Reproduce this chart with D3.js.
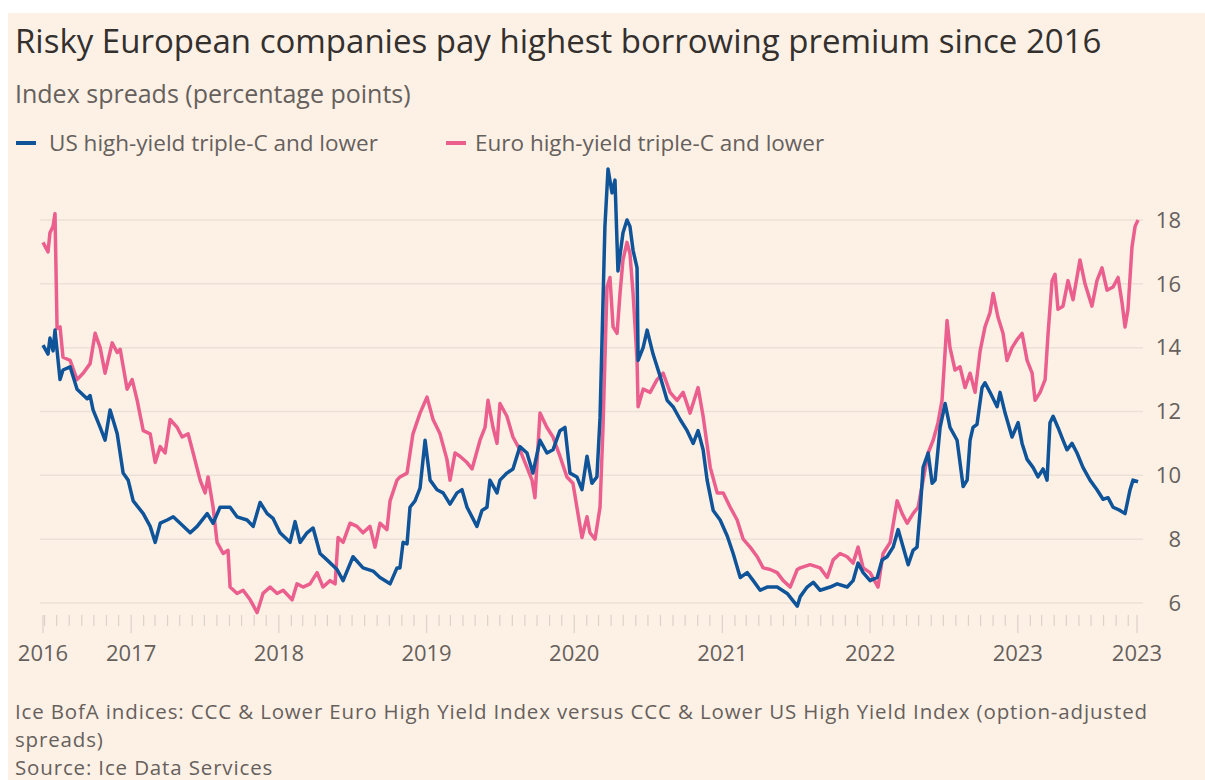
<!DOCTYPE html>
<html>
<head>
<meta charset="utf-8">
<script src="https://cdn.jsdelivr.net/npm/d3@7"></script>
<style>
  html, body { margin: 0; padding: 0; background: #ffffff; }
  svg { display: block; font-family: "Open Sans", sans-serif; }
</style>
</head>
<body>
<div id="chart"></div>
<script>
// dates are decimal years, spreads in percentage points
const usYears = [2016.405, 2016.439, 2016.452, 2016.473, 2016.486, 2016.520, 2016.540, 2016.588, 2016.635, 2016.703, 2016.723, 2016.743, 2016.791, 2016.824, 2016.858, 2016.906, 2016.946, 2016.980, 2017.014, 2017.082, 2017.129, 2017.163, 2017.197, 2017.244, 2017.285, 2017.332, 2017.400, 2017.447, 2017.515, 2017.555, 2017.602, 2017.670, 2017.717, 2017.785, 2017.826, 2017.873, 2017.921, 2017.961, 2018.008, 2018.076, 2018.110, 2018.144, 2018.191, 2018.232, 2018.279, 2018.326, 2018.394, 2018.435, 2018.502, 2018.570, 2018.638, 2018.685, 2018.753, 2018.800, 2018.820, 2018.841, 2018.868, 2018.888, 2018.922, 2018.956, 2018.990, 2019.024, 2019.071, 2019.112, 2019.159, 2019.206, 2019.240, 2019.274, 2019.341, 2019.375, 2019.409, 2019.429, 2019.477, 2019.497, 2019.544, 2019.585, 2019.632, 2019.680, 2019.720, 2019.768, 2019.815, 2019.856, 2019.903, 2019.937, 2019.971, 2020.018, 2020.052, 2020.086, 2020.119, 2020.153, 2020.174, 2020.187, 2020.207, 2020.228, 2020.255, 2020.275, 2020.295, 2020.329, 2020.356, 2020.376, 2020.397, 2020.424, 2020.431, 2020.465, 2020.492, 2020.532, 2020.580, 2020.627, 2020.667, 2020.715, 2020.762, 2020.803, 2020.836, 2020.870, 2020.897, 2020.938, 2020.985, 2021.033, 2021.073, 2021.121, 2021.168, 2021.209, 2021.256, 2021.303, 2021.371, 2021.439, 2021.507, 2021.527, 2021.574, 2021.615, 2021.662, 2021.730, 2021.777, 2021.845, 2021.885, 2021.919, 2021.953, 2022.000, 2022.048, 2022.081, 2022.115, 2022.156, 2022.190, 2022.224, 2022.258, 2022.291, 2022.318, 2022.339, 2022.359, 2022.393, 2022.420, 2022.440, 2022.474, 2022.508, 2022.541, 2022.589, 2022.630, 2022.657, 2022.677, 2022.697, 2022.724, 2022.758, 2022.778, 2022.812, 2022.860, 2022.880, 2022.914, 2022.961, 2023.002, 2023.029, 2023.063, 2023.103, 2023.137, 2023.171, 2023.198, 2023.218, 2023.239, 2023.272, 2023.306, 2023.333, 2023.367, 2023.401, 2023.441, 2023.489, 2023.536, 2023.577, 2023.611, 2023.645, 2023.692, 2023.726, 2023.760, 2023.780, 2023.814];
const usSpread = [14.08, 13.8, 14.3, 13.9, 14.55, 13.0, 13.3, 13.4, 12.7, 12.4, 12.5, 12.05, 11.5, 11.1, 12.05, 11.3, 10.07, 9.85, 9.2, 8.8, 8.4, 7.9, 8.5, 8.6, 8.7, 8.5, 8.2, 8.4, 8.8, 8.5, 9.0, 9.0, 8.7, 8.6, 8.4, 9.15, 8.8, 8.65, 8.2, 7.9, 8.55, 7.9, 8.2, 8.35, 7.55, 7.35, 7.05, 6.7, 7.45, 7.1, 7.0, 6.8, 6.6, 7.1, 7.1, 7.9, 7.85, 9.0, 9.2, 9.6, 11.1, 9.85, 9.55, 9.45, 9.1, 9.45, 9.55, 9.0, 8.4, 8.9, 9.0, 9.85, 9.45, 9.85, 10.07, 10.2, 10.9, 10.7, 10.07, 11.1, 10.7, 10.8, 11.4, 11.5, 10.07, 9.95, 9.55, 10.6, 9.75, 9.95, 11.8, 14.15, 17.8, 19.6, 18.85, 19.25, 16.4, 17.6, 18.0, 17.8, 17.05, 16.5, 13.6, 14.0, 14.55, 13.8, 13.1, 12.35, 12.15, 11.75, 11.4, 11.0, 11.4, 10.8, 9.85, 8.9, 8.6, 8.1, 7.55, 6.8, 6.95, 6.7, 6.4, 6.5, 6.5, 6.3, 5.9, 6.2, 6.5, 6.65, 6.4, 6.5, 6.6, 6.5, 6.7, 7.25, 6.95, 6.7, 6.8, 7.35, 7.45, 7.75, 8.3, 7.75, 7.2, 7.65, 7.75, 8.9, 10.25, 10.7, 9.75, 9.85, 11.5, 12.25, 11.5, 11.1, 9.65, 9.85, 11.1, 11.5, 11.6, 12.75, 12.9, 12.6, 12.15, 12.6, 11.95, 11.2, 11.65, 11.0, 10.5, 10.25, 9.95, 10.2, 9.85, 11.65, 11.85, 11.5, 11.1, 10.8, 11.0, 10.7, 10.25, 9.85, 9.55, 9.25, 9.3, 9.0, 8.9, 8.8, 9.55, 9.85, 9.8];

const euroYears = [2016.405, 2016.439, 2016.452, 2016.473, 2016.486, 2016.500, 2016.520, 2016.540, 2016.588, 2016.635, 2016.676, 2016.723, 2016.757, 2016.791, 2016.824, 2016.872, 2016.906, 2016.926, 2016.973, 2017.007, 2017.041, 2017.082, 2017.129, 2017.163, 2017.197, 2017.230, 2017.264, 2017.312, 2017.345, 2017.386, 2017.420, 2017.467, 2017.501, 2017.521, 2017.555, 2017.582, 2017.623, 2017.656, 2017.670, 2017.717, 2017.758, 2017.806, 2017.853, 2017.893, 2017.941, 2017.988, 2018.029, 2018.090, 2018.123, 2018.164, 2018.211, 2018.259, 2018.299, 2018.347, 2018.381, 2018.401, 2018.435, 2018.482, 2018.529, 2018.570, 2018.617, 2018.651, 2018.685, 2018.732, 2018.753, 2018.800, 2018.820, 2018.868, 2018.908, 2018.956, 2019.003, 2019.044, 2019.091, 2019.138, 2019.159, 2019.193, 2019.226, 2019.274, 2019.308, 2019.362, 2019.396, 2019.416, 2019.450, 2019.477, 2019.497, 2019.544, 2019.585, 2019.632, 2019.680, 2019.714, 2019.734, 2019.768, 2019.815, 2019.856, 2019.903, 2019.950, 2019.991, 2020.025, 2020.052, 2020.086, 2020.106, 2020.140, 2020.174, 2020.194, 2020.221, 2020.241, 2020.262, 2020.289, 2020.309, 2020.329, 2020.356, 2020.376, 2020.397, 2020.424, 2020.431, 2020.465, 2020.512, 2020.559, 2020.600, 2020.647, 2020.694, 2020.735, 2020.782, 2020.836, 2020.870, 2020.918, 2020.965, 2021.006, 2021.053, 2021.100, 2021.141, 2021.188, 2021.236, 2021.276, 2021.324, 2021.371, 2021.412, 2021.459, 2021.507, 2021.527, 2021.594, 2021.662, 2021.710, 2021.750, 2021.797, 2021.845, 2021.885, 2021.919, 2021.953, 2022.000, 2022.054, 2022.088, 2022.136, 2022.183, 2022.217, 2022.251, 2022.291, 2022.325, 2022.359, 2022.393, 2022.427, 2022.460, 2022.487, 2022.521, 2022.541, 2022.575, 2022.609, 2022.643, 2022.677, 2022.711, 2022.745, 2022.778, 2022.812, 2022.833, 2022.866, 2022.900, 2022.927, 2022.961, 2022.995, 2023.029, 2023.063, 2023.097, 2023.117, 2023.151, 2023.185, 2023.205, 2023.232, 2023.252, 2023.272, 2023.306, 2023.340, 2023.374, 2023.421, 2023.455, 2023.502, 2023.536, 2023.570, 2023.604, 2023.645, 2023.679, 2023.706, 2023.726, 2023.746, 2023.773, 2023.794, 2023.814];
const euroSpread = [17.3, 17.0, 17.6, 17.8, 18.2, 14.6, 14.65, 13.7, 13.6, 13.0, 13.2, 13.5, 14.45, 14.0, 13.2, 14.15, 13.85, 13.95, 12.7, 13.0, 12.35, 11.4, 11.3, 10.4, 10.9, 10.7, 11.75, 11.5, 11.2, 11.3, 10.7, 9.85, 9.45, 9.95, 9.0, 7.9, 7.55, 7.65, 6.5, 6.3, 6.4, 6.1, 5.7, 6.3, 6.5, 6.3, 6.4, 6.1, 6.6, 6.5, 6.6, 6.95, 6.5, 6.7, 6.6, 8.05, 7.9, 8.5, 8.4, 8.2, 8.4, 7.75, 8.5, 8.3, 9.2, 9.85, 9.95, 10.07, 11.3, 11.95, 12.45, 11.75, 11.3, 10.5, 9.85, 10.7, 10.6, 10.4, 10.2, 11.1, 11.5, 12.35, 11.5, 11.0, 12.25, 11.85, 11.2, 10.8, 10.25, 9.85, 9.3, 11.95, 11.5, 11.2, 10.6, 9.95, 9.75, 8.8, 8.05, 8.7, 8.2, 8.0, 9.0, 11.5, 15.9, 16.2, 14.65, 14.45, 15.7, 16.75, 17.3, 16.95, 15.7, 13.6, 12.15, 12.7, 12.6, 13.0, 13.2, 12.6, 12.35, 12.6, 11.95, 12.75, 11.85, 10.25, 9.45, 9.45, 9.0, 8.6, 8.0, 7.75, 7.45, 7.1, 7.05, 6.95, 6.7, 6.5, 7.05, 7.1, 7.2, 7.1, 6.8, 7.35, 7.55, 7.45, 7.25, 7.75, 7.1, 6.95, 6.5, 7.55, 7.9, 9.2, 8.8, 8.5, 8.8, 9.0, 9.85, 10.7, 11.1, 11.65, 12.35, 14.85, 14.0, 13.3, 13.4, 12.75, 13.2, 12.6, 13.9, 14.65, 15.1, 15.7, 14.95, 14.45, 13.6, 14.0, 14.25, 14.45, 13.6, 13.2, 12.35, 12.6, 13.0, 14.45, 16.1, 16.3, 15.2, 15.3, 16.1, 15.5, 16.75, 16.0, 15.3, 16.1, 16.5, 15.8, 15.9, 16.2, 15.4, 14.65, 15.2, 17.15, 17.8, 18.0];

const yTicks = [6, 8, 10, 12, 14, 16, 18];
const xTickYears = [2016.405, 2017, 2018, 2019, 2020, 2021, 2022, 2023, 2023.807];
const xTickLabels = ['2016', '2017', '2018', '2019', '2020', '2021', '2022', '2023', '2023'];

const seriesNames = ['US high-yield triple-C and lower', 'Euro high-yield triple-C and lower'];
const colors = { us: '#0f5499', euro: '#eb5f8e' };

const width = 1205, height = 780;

// decimal year -> Date
function toDate(t) {
  const y = Math.floor(t);
  const start = new Date(y, 0, 1), end = new Date(y + 1, 0, 1);
  return new Date(+start + (t - y) * (end - start));
}

const svg = d3.select('#chart')
  .append('svg')
  .attr('width', width)
  .attr('height', height);

// paper background (white strip top and left like the screenshot)
svg.append('rect')
  .attr('x', 8).attr('y', 13)
  .attr('width', width - 8).attr('height', height - 13)
  .attr('fill', '#fdf1e6');

const x = d3.scaleTime()
  .domain([toDate(2016.405), toDate(2023.807)])
  .range([43, 1137]);

const y = d3.scaleLinear()
  .domain([6, 18])
  .range([603, 220]);

// headings
svg.append('text')
  .attr('x', 15).attr('y', 53)
  .attr('fill', '#33302e')
  .style('font-size', '33px')
  .text('Risky European companies pay highest borrowing premium since 2016');

svg.append('text')
  .attr('x', 15).attr('y', 103)
  .attr('fill', '#66605c')
  .style('font-size', '25px')
  .text('Index spreads (percentage points)');

// legend
const legend = svg.append('g');
const legendX = [16, 446];
[colors.us, colors.euro].forEach((c, i) => {
  legend.append('line')
    .attr('x1', legendX[i]).attr('x2', legendX[i] + 20)
    .attr('y1', 143).attr('y2', 143)
    .attr('stroke', c).attr('stroke-width', 4);
  legend.append('text')
    .attr('x', legendX[i] + (i ? 29 : 33)).attr('y', 151)
    .attr('fill', '#66605c')
    .style('font-size', '22.5px')
    .text(seriesNames[i]);
});

// gridlines + right axis labels
svg.append('g')
  .selectAll('line')
  .data(yTicks)
  .join('line')
  .attr('x1', 40).attr('x2', 1143)
  .attr('y1', d => y(d)).attr('y2', d => y(d))
  .attr('stroke', '#ece1d6')
  .attr('stroke-width', 1.5);

svg.append('g')
  .selectAll('text')
  .data(yTicks)
  .join('text')
  .attr('x', 1181)
  .attr('y', d => y(d))
  .attr('dy', '0.35em')
  .attr('text-anchor', 'end')
  .attr('fill', '#66605c')
  .style('font-size', '22px')
  .text(d => d);

// x axis: monthly minor ticks, taller ticks at years
const months = d3.timeMonth.range(d3.timeMonth.ceil(x.domain()[0]), x.domain()[1]);
svg.append('g')
  .selectAll('line')
  .data(months)
  .join('line')
  .attr('x1', d => x(d)).attr('x2', d => x(d))
  .attr('y1', 615)
  .attr('y2', d => d.getMonth() === 0 ? 633 : 626)
  .attr('stroke', '#dcd2c8')
  .attr('stroke-width', 1.2);

svg.append('g')
  .selectAll('line')
  .data([xTickYears[0], xTickYears[xTickYears.length - 1]])
  .join('line')
  .attr('x1', d => x(toDate(d))).attr('x2', d => x(toDate(d)))
  .attr('y1', 615).attr('y2', 633)
  .attr('stroke', '#dcd2c8')
  .attr('stroke-width', 1.2);

svg.append('g')
  .selectAll('text')
  .data(xTickYears)
  .join('text')
  .attr('x', d => x(toDate(d)))
  .attr('y', 661)
  .attr('text-anchor', 'middle')
  .attr('fill', '#66605c')
  .style('font-size', '22px')
  .text((d, i) => xTickLabels[i]);

// the two lines, euro underneath
const line = d3.line()
  .x(d => x(toDate(d[0])))
  .y(d => y(d[1]));

svg.append('path')
  .datum(d3.zip(euroYears, euroSpread))
  .attr('fill', 'none')
  .attr('stroke', colors.euro)
  .attr('stroke-width', 3.5)
  .attr('stroke-linejoin', 'round')
  .attr('d', line);

svg.append('path')
  .datum(d3.zip(usYears, usSpread))
  .attr('fill', 'none')
  .attr('stroke', colors.us)
  .attr('stroke-width', 3.5)
  .attr('stroke-linejoin', 'round')
  .attr('d', line);

// footnote
const notes = [
  'Ice BofA indices: CCC & Lower Euro High Yield Index versus CCC & Lower US High Yield Index (option-adjusted',
  'spreads)',
  'Source: Ice Data Services'
];
svg.append('g')
  .selectAll('text')
  .data(notes)
  .join('text')
  .attr('x', 15)
  .attr('y', (d, i) => 719 + i * 28)
  .attr('fill', '#66605c')
  .style('font-size', '20.5px')
  .style('letter-spacing', '0.85px')
  .text(d => d);
</script>
</body>
</html>
